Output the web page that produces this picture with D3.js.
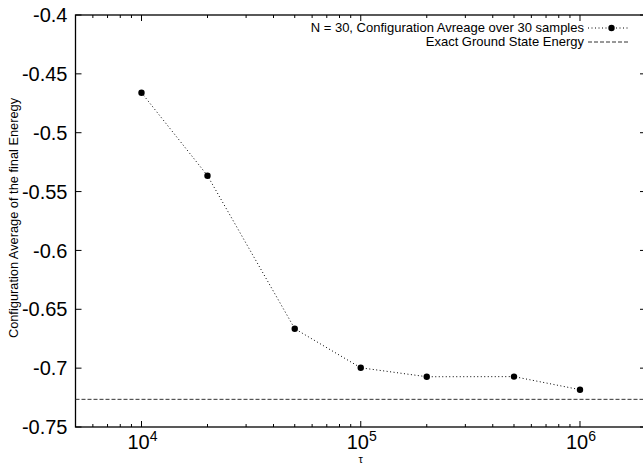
<!DOCTYPE html>
<html>
<head>
<meta charset="utf-8">
<script src="https://cdn.jsdelivr.net/npm/d3@7"></script>
<style>
  body { margin: 0; background: #fff; }
  svg { display: block; font-family: "Liberation Sans", Arial, sans-serif; }
</style>
</head>
<body>
<div id="chart"></div>
<script>
// Data
const tau = [1e4, 2e4, 5e4, 1e5, 2e5, 5e5, 1e6];
const energy = [-0.466, -0.5365, -0.6665, -0.6997, -0.7073, -0.7072, -0.7183];
const groundState = -0.7265;
const yTicks = [-0.4, -0.45, -0.5, -0.55, -0.6, -0.65, -0.7, -0.75];
const xMajor = [1e4, 1e5, 1e6];
const seriesLabel = "N = 30, Configuration Avreage over 30 samples";
const groundLabel = "Exact Ground State Energy";

const W = 643, H = 464;
const margin = { top: 15, right: -3, bottom: 37, left: 75.5 };
const width = W - margin.left - margin.right;
const height = H - margin.top - margin.bottom;

const x = d3.scaleLog().domain([5e3, 2e6]).range([0, width]);
const y = d3.scaleLinear().domain([-0.75, -0.4]).range([height, 0]);

const svg = d3.select("#chart").append("svg")
  .attr("width", W).attr("height", H);

const g = svg.append("g")
  .attr("transform", `translate(${margin.left},${margin.top})`);

// Minor tick positions on the log axis
const xMinor = [];
for (let e = 3; e <= 6; e++) {
  for (let m = 2; m <= 9; m++) {
    const v = m * Math.pow(10, e);
    if (v >= 5e3 && v <= 2e6) xMinor.push(v);
  }
}

// Ticks, gnuplot style: inward and mirrored
const tickStroke = "#000";
xMinor.forEach((v) => {
  [[height, height - 3], [0, 3]].forEach(([a, b]) => {
    g.append("line").attr("x1", x(v)).attr("x2", x(v)).attr("y1", a).attr("y2", b)
      .attr("stroke", tickStroke).attr("stroke-width", 1);
  });
});
xMajor.forEach((v) => {
  [[height, height - 6], [0, 6]].forEach(([a, b]) => {
    g.append("line").attr("x1", x(v)).attr("x2", x(v)).attr("y1", a).attr("y2", b)
      .attr("stroke", tickStroke).attr("stroke-width", 1);
  });
  const t = g.append("text")
    .attr("x", x(v) + 1)
    .attr("y", height + 22)
    .attr("text-anchor", "middle")
    .style("font-size", "20px");
  t.append("tspan").text("10");
  t.append("tspan").attr("dy", -8).style("font-size", "14px").text(Math.round(Math.log10(v)));
});
yTicks.forEach((v) => {
  [[0, 6], [width, width - 6]].forEach(([a, b]) => {
    g.append("line").attr("x1", a).attr("x2", b).attr("y1", y(v)).attr("y2", y(v))
      .attr("stroke", tickStroke).attr("stroke-width", 1);
  });
  g.append("text")
    .attr("x", -8)
    .attr("y", y(v))
    .attr("dy", "0.36em")
    .attr("text-anchor", "end")
    .style("font-size", "20px")
    .text(String(v));
});

// Frame
g.append("rect")
  .attr("x", 0).attr("y", 0).attr("width", width).attr("height", height)
  .attr("fill", "none").attr("stroke", "#000").attr("stroke-width", 1.3);

// Ground state line
g.append("line")
  .attr("x1", 0).attr("x2", width)
  .attr("y1", y(groundState)).attr("y2", y(groundState))
  .attr("stroke", "#333").attr("stroke-width", 1)
  .attr("stroke-dasharray", "4,2");

// Series
const pts = tau.map((t, i) => ({ t, e: energy[i] }));
const line = d3.line().x((d) => x(d.t)).y((d) => y(d.e));
g.append("path")
  .datum(pts)
  .attr("fill", "none")
  .attr("stroke", "#000")
  .attr("stroke-width", 1)
  .attr("stroke-dasharray", "1,2.5")
  .attr("d", line);
g.selectAll(".pt")
  .data(pts)
  .join("circle")
  .attr("class", "pt")
  .attr("cx", (d) => x(d.t))
  .attr("cy", (d) => y(d.e))
  .attr("r", 3.2)
  .attr("fill", "#000");

// Axis labels
svg.append("text")
  .attr("x", margin.left + x(1e5))
  .attr("y", 463)
  .attr("text-anchor", "middle")
  .style("font-size", "11px")
  .text("τ");

svg.append("text")
  .attr("transform", "rotate(-90)")
  .attr("x", -218)
  .attr("y", 18)
  .attr("text-anchor", "middle")
  .style("font-size", "12.8px")
  .text("Configuration Average of the final Eneregy");

// Legend
const lg = svg.append("g");
lg.append("text").attr("x", 584).attr("y", 32).attr("text-anchor", "end")
  .style("font-size", "13px").text(seriesLabel);
lg.append("line").attr("x1", 588).attr("x2", 630).attr("y1", 28).attr("y2", 28)
  .attr("stroke", "#000").attr("stroke-dasharray", "1,2.5");
lg.append("circle").attr("cx", 611.5).attr("cy", 28).attr("r", 3.2).attr("fill", "#000");
lg.append("text").attr("x", 584).attr("y", 46).attr("text-anchor", "end")
  .style("font-size", "13px").text(groundLabel);
lg.append("line").attr("x1", 588).attr("x2", 630).attr("y1", 42).attr("y2", 42)
  .attr("stroke", "#333").attr("stroke-dasharray", "4,2");
</script>
</body>
</html>
